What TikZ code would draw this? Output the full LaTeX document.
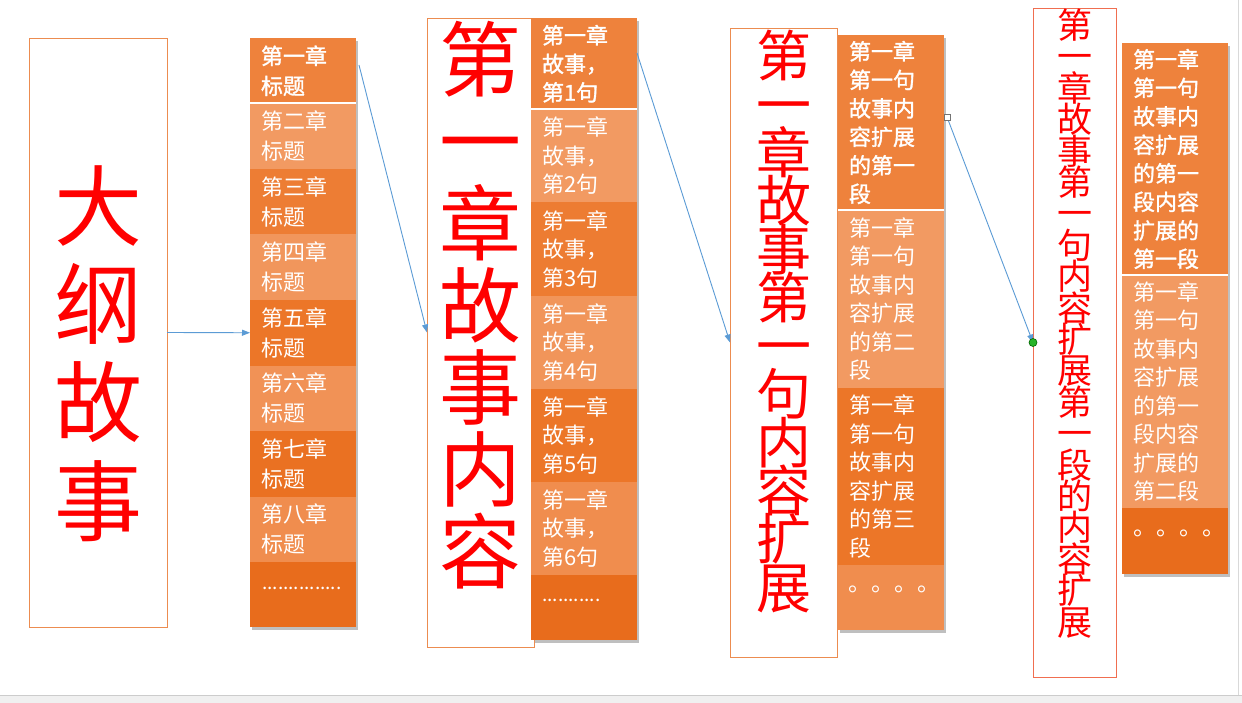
\documentclass[tikz,border=0pt]{standalone}
\usepackage{fontspec}
\newfontfamily\cjk{Noto Sans CJK SC}[AutoFakeBold=1.5]
\usetikzlibrary{arrows.meta,calc}
\pgfdeclarelayer{background}
\pgfsetlayers{background,main}
\definecolor{dkA}{RGB}{238,130,60}
\definecolor{dkB}{RGB}{236,118,40}
\definecolor{dkC}{RGB}{232,108,28}
\definecolor{ltA}{RGB}{242,154,98}
\definecolor{ltB}{RGB}{240,141,78}
\definecolor{boxline}{RGB}{236,140,80}
\definecolor{boxlineD}{RGB}{240,110,80}
\definecolor{connblue}{RGB}{91,155,213}
\definecolor{hgreen}{RGB}{40,180,40}
\newcommand\segfont{\fontsize{22}{28.5}\selectfont\cjk}
\newcommand\tightlines{\lineskiplimit=-200pt\lineskip=0pt}
\tikzset{
  outbox/.style={rectangle, draw=boxline, line width=0.9pt, fill=white, anchor=north west, inner sep=0pt, outer sep=0pt},
  redtxt/.style={text=red, align=center, inner sep=0pt},
  seg/.style={rectangle, anchor=north west, inner xsep=11pt, inner ysep=0pt, outer sep=0pt,
              text width=84pt, minimum width=106pt, align=left, text=white, font=\segfont},
  seghead/.style={seg, font=\segfont\bfseries},
  dotlab/.style={text=white, anchor=base west, inner sep=0pt, font=\segfont},
  sep/.style={white, line width=2pt},
  shadowbox/.style={fill=black, opacity=0.25},
  conn/.style={draw=connblue, line width=0.9pt, -{Triangle[length=8pt,width=6pt]}},
  handle/.style={rectangle, draw=black!55, fill=white, minimum size=6pt, inner sep=0pt, line width=0.6pt},
  gdot/.style={circle, draw=green!40!black, fill=hgreen, minimum size=8pt, inner sep=0pt, line width=0.6pt},
}
\begin{document}
\begin{tikzpicture}[x=1pt,y=-1pt]
\useasboundingbox (0,0) rectangle (1242,703);
\begin{pgfonlayer}{background}
\fill[white] (0,0) rectangle (1242,703);
\fill[black!6] (0,695) rectangle (1242,703);
\draw[black!20, line width=0.8pt] (0,695) -- (1242,695);
\draw[black!15, line width=0.8pt] (1238,0) -- (1238,695);
\end{pgfonlayer}

% ---------- box A ----------
\node[outbox, minimum width=138pt, minimum height=589pt] (A) at (29,38) {};
\node[redtxt, font=\fontsize{88}{98.3}\selectfont\cjk\tightlines] (At) at (98,353.5) {大\\纲\\故\\事};

% ---------- column 1 ----------
\begin{scope}[every node/.append style={minimum width=107pt, text width=85pt, inner xsep=11pt}]
\node[seghead, fill=dkA, minimum height=65.5pt, font=\fontsize{22}{30}\selectfont\cjk\bfseries] (c1s1) at (250,38) {第一章\\标题};
\node[seg, fill=ltA, minimum height=65.5pt, font=\fontsize{22}{30}\selectfont\cjk] (c1s2) at (250,103.5) {第二章\\标题};
\node[seg, fill=dkA!60!dkB, minimum height=65.5pt, font=\fontsize{22}{30}\selectfont\cjk] (c1s3) at (250,169) {第三章\\标题};
\node[seg, fill=ltA!70!ltB, minimum height=65.5pt, font=\fontsize{22}{30}\selectfont\cjk] (c1s4) at (250,234.5) {第四章\\标题};
\node[seg, fill=dkB, minimum height=65.5pt, font=\fontsize{22}{30}\selectfont\cjk] (c1s5) at (250,300) {第五章\\标题};
\node[seg, fill=ltA!40!ltB, minimum height=65.5pt, font=\fontsize{22}{30}\selectfont\cjk] (c1s6) at (250,365.5) {第六章\\标题};
\node[seg, fill=dkB!50!dkC, minimum height=65.5pt, font=\fontsize{22}{30}\selectfont\cjk] (c1s7) at (250,431) {第七章\\标题};
\node[seg, fill=ltB, minimum height=65.5pt, font=\fontsize{22}{30}\selectfont\cjk] (c1s8) at (250,496.5) {第八章\\标题};
\node[seg, fill=dkC, minimum height=65pt] (c1s9) at (250,562) {};
\end{scope}
\node[dotlab, font=\fontsize{19}{24}\selectfont\cjk] (c1d) at ($(c1s9.north west)+(12,27)$) {...............};
\draw[sep] (c1s1.south west) -- (c1s1.south east);

% ---------- box B ----------
\node[outbox, minimum width=107pt, minimum height=629pt] (B) at (427,18) {};
\node[redtxt, font=\fontsize{82}{82}\selectfont\cjk\tightlines] (Bt) at (480,305) {第\\一\\章\\故\\事\\内\\容};

% ---------- column 2 ----------
\node[seghead, fill=dkA, minimum height=91.5pt] (c2s1) at (531,18) {第一章\\故事，\\第1句};
\node[seg, fill=ltA, minimum height=93pt] (c2s2) at (531,109.5) {第一章\\故事，\\第2句};
\node[seg, fill=dkA!50!dkB, minimum height=93.5pt] (c2s3) at (531,202.5) {第一章\\故事，\\第3句};
\node[seg, fill=ltA!60!ltB, minimum height=93pt] (c2s4) at (531,296) {第一章\\故事，\\第4句};
\node[seg, fill=dkB, minimum height=93pt] (c2s5) at (531,389) {第一章\\故事，\\第5句};
\node[seg, fill=ltB, minimum height=93pt] (c2s6) at (531,482) {第一章\\故事，\\第6句};
\node[seg, fill=dkC, minimum height=65pt] (c2s7) at (531,575) {};
\node[dotlab, font=\fontsize{19}{24}\selectfont\cjk] (c2d) at ($(c2s7.north west)+(11,26)$) {...........};
\draw[sep] (c2s1.south west) -- (c2s1.south east);

% ---------- box C ----------
\node[outbox, minimum width=107pt, minimum height=629pt] (C) at (730,28) {};
\node[redtxt, font=\fontsize{55}{48.3}\selectfont\cjk\tightlines] (Ct) at (783.5,321.5) {第\\一\\章\\故\\事\\第\\一\\句\\内\\容\\扩\\展};

% ---------- column 3 ----------
\node[seghead, fill=dkA, minimum height=175pt] (c3s1) at (838,35) {第一章\\第一句\\故事内\\容扩展\\的第一\\段};
\node[seg, fill=ltA, minimum height=178pt] (c3s2) at (838,210) {第一章\\第一句\\故事内\\容扩展\\的第二\\段};
\node[seg, fill=dkB, minimum height=177pt] (c3s3) at (838,388) {第一章\\第一句\\故事内\\容扩展\\的第三\\段};
\node[seg, fill=ltB, minimum height=65pt] (c3s4) at (838,565) {};
\node[dotlab, font=\fontsize{23}{28}\selectfont\cjk] (c3d) at ($(c3s4.north west)+(10,26)$) {。。。。};
\draw[sep] (c3s1.south west) -- (c3s1.south east);

% ---------- box D ----------
\node[outbox, draw=boxlineD, minimum width=83pt, minimum height=669pt] (D) at (1033,8) {};
\node[redtxt, font=\fontsize{35}{31.4}\selectfont\cjk\tightlines] (Dt) at (1074.5,323.5) {第\\一\\章\\故\\事\\第\\一\\句\\内\\容\\扩\\展\\第\\一\\段\\的\\内\\容\\扩\\展};

% ---------- column 4 ----------
\begin{scope}[every node/.append style={minimum width=107pt, text width=85pt}]
\node[seghead, fill=dkA, minimum height=232pt] (c4s1) at (1122,43) {第一章\\第一句\\故事内\\容扩展\\的第一\\段内容\\扩展的\\第一段};
\node[seg, fill=ltA, minimum height=233pt] (c4s2) at (1122,275) {第一章\\第一句\\故事内\\容扩展\\的第一\\段内容\\扩展的\\第二段};
\node[seg, fill=dkC, minimum height=66pt] (c4s3) at (1122,508) {};
\end{scope}
\node[dotlab, font=\fontsize{23}{28}\selectfont\cjk] (c4d) at ($(c4s3.north west)+(11,27)$) {。。。。};
\draw[sep] (c4s1.south west) -- (c4s1.south east);

% ---------- shadows ----------
\begin{pgfonlayer}{background}
\fill[shadowbox] ($(c1s1.north west)+(2,3)$) rectangle ($(c1s9.south east)+(2,3)$);
\fill[shadowbox] ($(c2s1.north west)+(2,3)$) rectangle ($(c2s7.south east)+(2,3)$);
\fill[shadowbox] ($(c3s1.north west)+(2,3)$) rectangle ($(c3s4.south east)+(2,3)$);
\fill[shadowbox] ($(c4s1.north west)+(2,3)$) rectangle ($(c4s3.south east)+(2,3)$);
\end{pgfonlayer}

% ---------- connectors ----------
\coordinate (p2) at ($(c1s1.north east)+(3,27)$);
\coordinate (p3) at ($(c2s1.north east)+(0,35)$);
\coordinate (p4) at ($(c3s1.north east)+(3,82)$);
\draw[conn] (A.east) -- (c1s5.west);
\draw[conn] (p2) -- (B.west);
\draw[conn] (p3) -- (C.west);
\draw[conn] (p4) -- (D.west);
\node[handle] (h4) at (p4) {};
\node[gdot] (g4) at (D.west) {};
\end{tikzpicture}
\end{document}
